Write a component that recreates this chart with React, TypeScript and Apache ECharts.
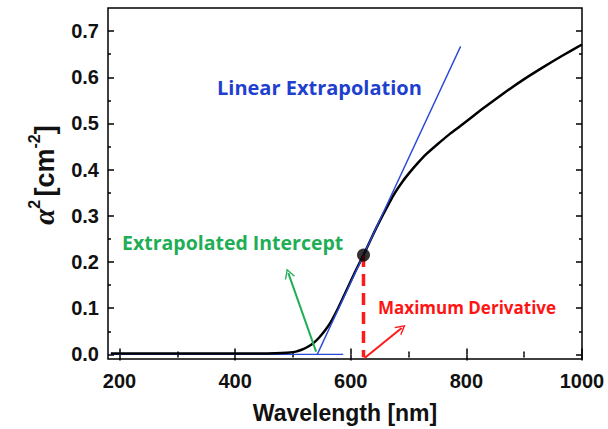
import React, { useEffect, useRef } from "react";
import * as echarts from "echarts";

// ---- data ----
const curveX = [185, 250, 300, 350, 400, 450, 480, 495, 505, 515, 525, 535, 545, 555, 564, 578, 593, 608, 622, 635, 645, 656, 674, 690, 702, 715, 731, 750, 772, 789, 825, 864, 900, 933, 965, 1000];
const curveY = [0.002, 0.002, 0.002, 0.002, 0.002, 0.002, 0.003, 0.004, 0.006, 0.01, 0.016, 0.024, 0.036, 0.051, 0.067, 0.1, 0.14, 0.18, 0.215, 0.25, 0.276, 0.303, 0.345, 0.375, 0.394, 0.413, 0.434, 0.455, 0.478, 0.494, 0.529, 0.565, 0.596, 0.622, 0.646, 0.671];
const tangentLine = [[542, 0], [790, 0.667]];
const baseLine = [[184, 0], [587, 0]];
const maxDerivPoint = [622, 0.215];
const dashedDrop = [[622, 0.215], [622, -0.006]];
const greenArrow = [[540, 0.006], [492, 0.176]];
const redArrow = [[624, -0.008], [688, 0.057]];

const xMajor = [200, 400, 600, 800, 1000];
const xMinor = [300, 500, 700, 900];
const yMajor = [0, 0.1, 0.2, 0.3, 0.4, 0.5, 0.6, 0.7];
const yMinor = [0.05, 0.15, 0.25, 0.35, 0.45, 0.55, 0.65];
const xTitle = "Wavelength [nm]";

const X_MIN = 180, X_MAX = 1000, Y_MIN = -0.01, Y_MAX = 0.75;

const chevron = "path://M50,0 L100,90 L86,90 L50,26 L14,90 L0,90 Z";

export default function App() {
  const ref = useRef<HTMLDivElement>(null);
  useEffect(() => {
    document.body.style.margin = "0";
    if (!ref.current) return;
    const chart = echarts.init(ref.current, undefined, { renderer: "svg" });
    const tickStyle = { color: "#000", width: 1.5 };
    const labelFont = { fontFamily: "Liberation Sans, Arial, sans-serif", fontWeight: "bold" as const, fontSize: 20, color: "#111" };
    const mkX = (pos: string, vals: number[], len: number, labels: boolean) => ({
      type: "value", position: pos, min: X_MIN, max: X_MAX,
      axisLine: { show: false }, splitLine: { show: false },
      axisTick: { show: true, inside: true, length: len, customValues: vals, lineStyle: tickStyle },
      axisLabel: labels ? { show: true, customValues: vals, margin: 12, formatter: (v: number) => String(v), ...labelFont } : { show: false },
    });
    const mkY = (pos: string, vals: number[], len: number, labels: boolean) => ({
      type: "value", position: pos, min: Y_MIN, max: Y_MAX,
      axisLine: { show: false }, splitLine: { show: false },
      axisTick: { show: true, inside: true, length: len, customValues: vals, lineStyle: tickStyle },
      axisLabel: labels ? { show: true, customValues: vals, margin: 9, formatter: (v: number) => v.toFixed(1), ...labelFont } : { show: false },
    });
    const curve = curveX.map((x, i) => [x, curveY[i]]);
    const annFont = "'Open Sans', sans-serif";
    chart.setOption({
      animation: false,
      backgroundColor: "#fff",
      grid: { left: 108, right: 26, top: 8, bottom: 70, outerBoundsMode: "none", containLabel: false, show: true, borderColor: "#000", borderWidth: 1.5, backgroundColor: "transparent" },
      xAxis: [
        mkX("bottom", xMajor, 6, true),
        mkX("bottom", xMinor, 3, false),
        mkX("top", xMajor, 6, false),
        mkX("top", xMinor, 3, false),
      ],
      yAxis: [
        mkY("left", yMajor, 6, true),
        mkY("left", yMinor, 3, false),
        mkY("right", yMajor, 6, false),
        mkY("right", yMinor, 3, false),
      ],
      graphic: [
        {
          type: "text", x: 345, y: 413,
          style: {
            text: xTitle, textAlign: "center", textVerticalAlign: "middle",
            font: "bold 23px 'Liberation Sans', Arial, sans-serif", fill: "#111",
          },
        },
        {
          type: "text", x: 42, y: 175, rotation: Math.PI / 2,
          style: {
            text: "{a|α}{s|2} {b|[cm}{s|-2}{b|]}",
            textAlign: "center", textVerticalAlign: "middle",
            rich: {
              a: { fontFamily: "Liberation Serif, serif", fontStyle: "italic", fontWeight: "bold", fontSize: 29, fill: "#111", lineHeight: 32, verticalAlign: "bottom" },
              b: { fontFamily: "Liberation Sans, Arial, sans-serif", fontWeight: "bold", fontSize: 27, fill: "#111", lineHeight: 32, verticalAlign: "bottom" },
              s: { fontFamily: "Liberation Sans, Arial, sans-serif", fontWeight: "bold", fontSize: 16, fill: "#111", lineHeight: 32, verticalAlign: "top" },
            },
          },
        },
        { type: "text", left: 217, top: 77, style: { text: "Linear Extrapolation", fill: "#1f3fcf", font: `bold 20px ${annFont}` } },
        { type: "text", left: 122, top: 232, style: { text: "Extrapolated Intercept", fill: "#1fae55", font: `bold 19.5px ${annFont}` } },
        { type: "text", left: 378, top: 299, style: { text: "Maximum Derivative", fill: "#ff1414", font: `bold 17px ${annFont}` } },
      ],
      series: [
        { type: "line", data: baseLine, showSymbol: false, lineStyle: { color: "#2a48d6", width: 1.4 }, z: 2 },
        { type: "line", data: curve, showSymbol: false, smooth: 0.15, lineStyle: { color: "#000", width: 2.5 }, z: 3 },
        { type: "line", data: tangentLine, showSymbol: false, lineStyle: { color: "#2a48d6", width: 1.4 }, z: 4 },
        { type: "line", data: dashedDrop, showSymbol: false, lineStyle: { color: "#ff1a1a", width: 3.5, type: [12, 7] }, z: 5 },
        {
          type: "scatter", data: [maxDerivPoint], symbolSize: 13, itemStyle: { color: "#000" }, z: 6,
          markLine: {
            silent: true, animation: false, symbol: ["none", chevron], symbolSize: [11, 10],
            label: { show: false },
            data: [
              [{ coord: greenArrow[0], lineStyle: { color: "#1fae55", width: 2, type: "solid" } }, { coord: greenArrow[1] }],
              [{ coord: redArrow[0], lineStyle: { color: "#ff1a1a", width: 2, type: "solid" } }, { coord: redArrow[1] }],
            ],
          },
        },
      ],
    });
    return () => chart.dispose();
  }, []);
  return <div ref={ref} style={{ width: 608, height: 429 }} />;
}
